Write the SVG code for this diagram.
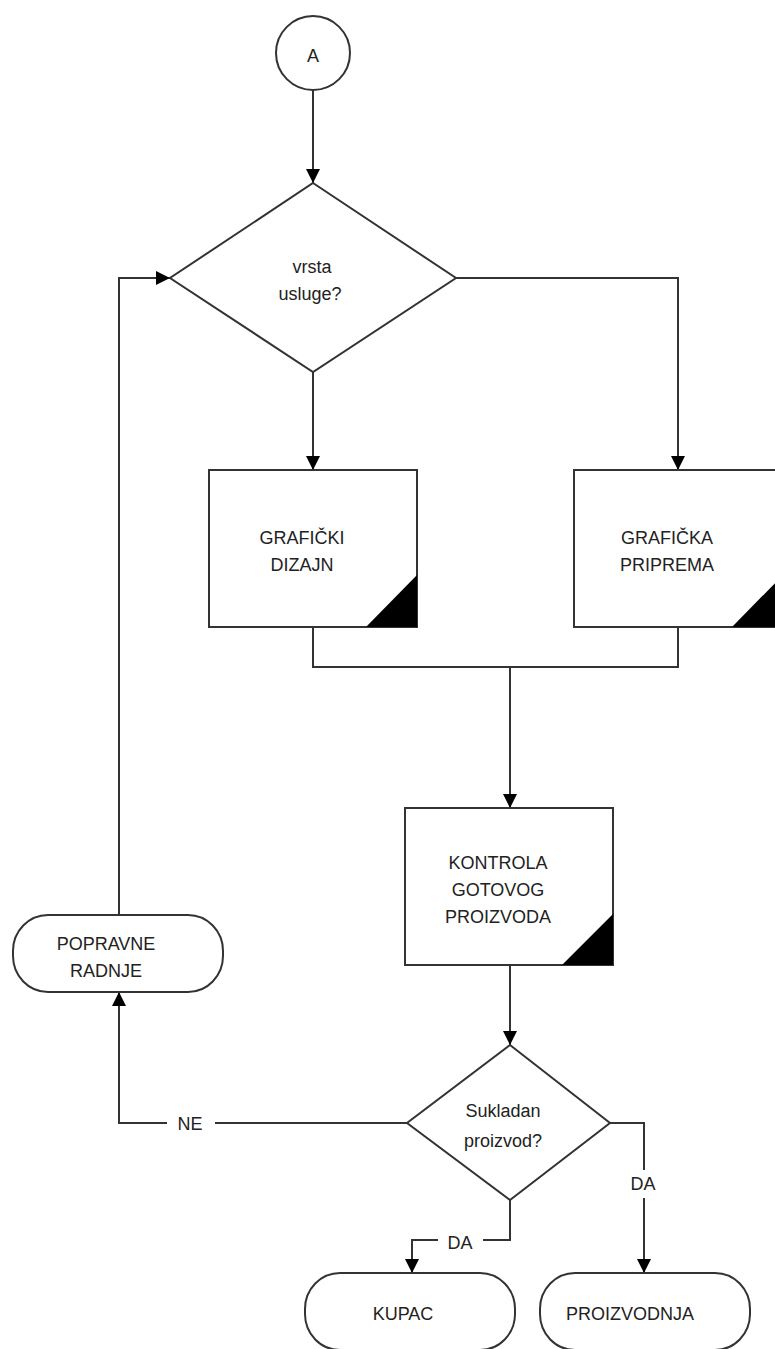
<svg xmlns="http://www.w3.org/2000/svg" width="775" height="1349" viewBox="0 0 775 1349">
<style>
.s{fill:#fff;stroke:#333;stroke-width:2}
.c{fill:none;stroke:#333;stroke-width:2}
.t{font-family:"Liberation Sans",Arial,sans-serif;font-size:18px;fill:#222;text-anchor:middle}
.k{fill:#000}
</style>
<defs>
<marker id="ah" markerUnits="userSpaceOnUse" markerWidth="14" markerHeight="14" viewBox="0 0 14 14" refX="14" refY="7" orient="auto">
<path d="M0,0 L14,7 L0,14 Z" fill="#000"/>
</marker>
</defs>
<rect width="775" height="1349" fill="#fff"/>
<g id="connectors">
<path class="c" d="M313,90 V183" marker-end="url(#ah)"/>
<path class="c" d="M313,372 V470" marker-end="url(#ah)"/>
<path class="c" d="M456,278 H678 V470" marker-end="url(#ah)"/>
<path class="c" d="M313,627 V667 H678 V627"/>
<path class="c" d="M510,667 V808" marker-end="url(#ah)"/>
<path class="c" d="M510,965 V1045" marker-end="url(#ah)"/>
<path class="c" d="M407,1123 H215"/>
<path class="c" d="M167,1123 H119 V992" marker-end="url(#ah)"/>
<text class="t" x="190" y="1130">NE</text>
<path class="c" d="M119,915 V278 H170" marker-end="url(#ah)"/>
<path class="c" d="M610,1123 H644 V1170"/>
<text class="t" x="643" y="1190">DA</text>
<path class="c" d="M644,1198 V1273" marker-end="url(#ah)"/>
<path class="c" d="M510,1200 V1240 H483"/>
<text class="t" x="460" y="1249">DA</text>
<path class="c" d="M438,1240 H412 V1273" marker-end="url(#ah)"/>
</g>
<g id="nodeA">
<circle class="s" cx="313" cy="53" r="37"/>
<text class="t" x="313" y="62">A</text>
</g>
<g id="decision1">
<polygon class="s" points="313,183 456,278 313,372 170,278"/>
<text class="t" x="312" y="273">vrsta</text>
<text class="t" x="310" y="300">usluge?</text>
</g>
<g id="grafickiDizajn">
<rect class="s" x="209" y="470" width="208" height="157"/>
<polygon class="k" points="366,627 417,575 417,627"/>
<text class="t" x="302" y="544">GRAFIČKI</text>
<text class="t" x="302" y="571">DIZAJN</text>
</g>
<g id="grafickaPriprema">
<rect class="s" x="574" y="470" width="209" height="157"/>
<polygon class="k" points="732,627 783,575 783,627"/>
<text class="t" x="667" y="544">GRAFIČKA</text>
<text class="t" x="667" y="571">PRIPREMA</text>
</g>
<g id="kontrola">
<rect class="s" x="405" y="808" width="208" height="157"/>
<polygon class="k" points="562,965 613,914 613,965"/>
<text class="t" x="498" y="869">KONTROLA</text>
<text class="t" x="498" y="896">GOTOVOG</text>
<text class="t" x="498" y="923">PROIZVODA</text>
</g>
<g id="decision2">
<polygon class="s" points="510,1045 610,1123 510,1200 407,1123"/>
<text class="t" x="503" y="1117">Sukladan</text>
<text class="t" x="503" y="1147">proizvod?</text>
</g>
<g id="popravne">
<rect class="s" x="13" y="915" width="210" height="77" rx="35" ry="36"/>
<text class="t" x="106" y="950">POPRAVNE</text>
<text class="t" x="106" y="977">RADNJE</text>
</g>
<g id="kupac">
<rect class="s" x="305" y="1273" width="210" height="77" rx="35" ry="36"/>
<text class="t" x="403" y="1320">KUPAC</text>
</g>
<g id="proizvodnja">
<rect class="s" x="540" y="1273" width="210" height="77" rx="35" ry="36"/>
<text class="t" x="630" y="1320">PROIZVODNJA</text>
</g>
</svg>
